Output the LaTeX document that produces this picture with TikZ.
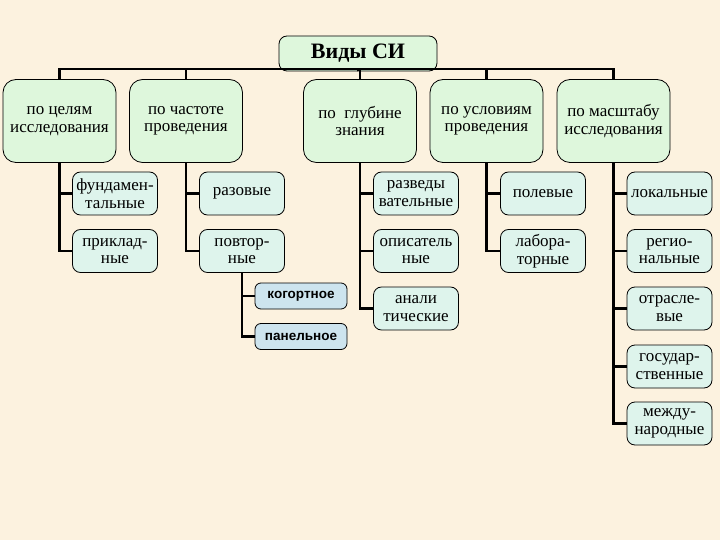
\documentclass[tikz,border=0pt]{standalone}
\usepackage{fontspec}
\setmainfont{Liberation Serif}
\newfontfamily\sansf{Liberation Sans}
\definecolor{bg}{RGB}{252,242,223}
\definecolor{lone}{RGB}{222,247,220}
\definecolor{ltwo}{RGB}{222,244,236}
\definecolor{lthree}{RGB}{205,228,238}
\begin{document}
\begin{tikzpicture}[x=1pt,y=-1pt,
  base/.style={draw=black,line width=0.8pt,align=center,inner sep=0pt,anchor=center},
  topbox/.style={base,fill=lone,rounded corners=8pt,minimum width=158pt,minimum height=35pt,font=\fontsize{22}{24}\selectfont\bfseries},
  catbox/.style={base,fill=lone,rounded corners=13pt,minimum width=113pt,minimum height=83pt,font=\fontsize{17}{17.5}\selectfont},
  leafbox/.style={base,fill=ltwo,rounded corners=8pt,minimum width=85pt,minimum height=43pt,font=\fontsize{17}{17.5}\selectfont},
  subbox/.style={base,fill=lthree,rounded corners=6pt,minimum width=92pt,minimum height=26pt,font=\sansf\fontsize{13.5}{15}\selectfont\bfseries},
  conn/.style={draw=black,line width=2.2pt}]
\fill[bg] (0,0) rectangle (720,540);
\useasboundingbox (0,0) rectangle (720,540);

\node[topbox] (top) at (358,53.5) {Виды СИ};

\node[catbox] (a) at (59.5,121) {по целям\\исследования};
\node[catbox] (b) at (186,121) {по частоте\\проведения};
\node[catbox] (c) at (360,121) {по~~глубине\\знания};
\node[catbox] (d) at (486.5,121) {по условиям\\проведения};
\node[catbox] (e) at (613.5,121) {по масштабу\\исследования};

\node[leafbox] (a1) at (115,193.5) {фундамен-\\тальные};
\node[leafbox] (a2) at (115,251) {приклад-\\ные};
\node[leafbox] (b1) at (242,193.5) {разовые};
\node[leafbox] (b2) at (242,251) {повтор-\\ные};
\node[subbox] (b21) at (301,296) {когортное};
\node[subbox] (b22) at (301,336.5) {панельное};
\node[leafbox] (c1) at (416,193.5) {разведы\\вательные};
\node[leafbox] (c2) at (416,251) {описатель\\ные};
\node[leafbox] (c3) at (416,308.5) {анали\\тические};
\node[leafbox] (d1) at (543,193.5) {полевые};
\node[leafbox] (d2) at (543,251) {лабора-\\торные};
\node[leafbox] (e1) at (669.5,193.5) {локальные};
\node[leafbox] (e2) at (669.5,251) {регио-\\нальные};
\node[leafbox] (e3) at (669.5,308.5) {отрасле-\\вые};
\node[leafbox] (e4) at (669.5,366.5) {государ-\\ственные};
\node[leafbox] (e5) at (669.5,423.5) {между-\\народные};

\coordinate (bus) at ([yshift=2.5pt]top.south);
\foreach \n in {a,b,c,d,e} \draw[conn] (top.south) -- (bus) -| (\n.north);

\foreach \p/\k in {a/a1,a/a2,b/b1,b/b2,c/c1,c/c2,c/c3,d/d1,d/d2,e/e1,e/e2,e/e3,e/e4,e/e5}
  \draw[conn] (\p.south) |- (\k.west);
\foreach \k in {b21,b22} \draw[conn] (b2.south) |- (\k.west);
\end{tikzpicture}
\end{document}
